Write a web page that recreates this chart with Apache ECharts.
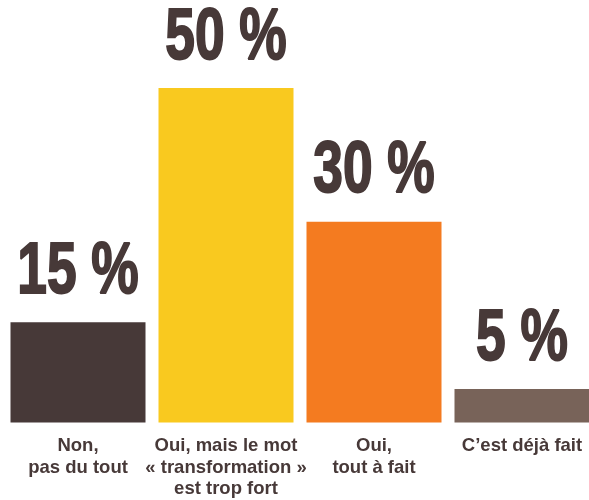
<!DOCTYPE html>
<html>
<head>
<meta charset="utf-8">
<script src="https://cdn.jsdelivr.net/npm/echarts@6/dist/echarts.min.js"></script>
<style>
  html, body { margin: 0; padding: 0; background: #fff; overflow: hidden; }
  #chart { width: 596px; height: 500px; }
</style>
</head>
<body>
<div id="chart"></div>
<script>
var categories = ['Non,\npas du tout', 'Oui, mais le mot\n« transformation »\nest trop fort', 'Oui,\ntout à fait', 'C\u2019est déjà fait'];
var values = [15, 50, 30, 5];
var colors = ['#473938', '#f9c91f', '#f47b20', '#786359'];

var textColor = '#473938';

var chart = echarts.init(document.getElementById('chart'));

// big condensed-looking value labels, squeezed horizontally
function renderValueLabel(params, api) {
  var p = api.coord([api.value(0), api.value(1)]);
  return {
    type: 'text',
    x: p[0],
    y: p[1] - 13,
    scaleX: 0.73,
    style: {
      text: api.value(1) + ' %',
      font: 'bold 73px "Liberation Sans", Arial, sans-serif',
      fill: textColor,
      stroke: textColor,
      lineWidth: 2,
      align: 'center',
      verticalAlign: 'bottom'
    }
  };
}

var option = {
  animation: false,
  grid: {
    left: 4,
    right: 0,
    top: 88,
    bottom: 75
  },
  xAxis: {
    type: 'category',
    data: categories,
    axisLine: { show: false },
    axisTick: { show: false },
    axisLabel: {
      interval: 0,
      margin: 13,
      color: textColor,
      fontFamily: 'Liberation Sans, Arial, sans-serif',
      fontWeight: 'bold',
      fontSize: 18.5,
      lineHeight: 21.5
    }
  },
  yAxis: {
    type: 'value',
    min: 0,
    max: 50,
    show: false
  },
  series: [{
    type: 'bar',
    barWidth: 135,
    data: values.map(function (v, i) {
      return { value: v, itemStyle: { color: colors[i] } };
    })
  }, {
    type: 'custom',
    renderItem: renderValueLabel,
    data: values.map(function (v, i) { return [i, v]; })
  }]
};

chart.setOption(option);
</script>
</body>
</html>
